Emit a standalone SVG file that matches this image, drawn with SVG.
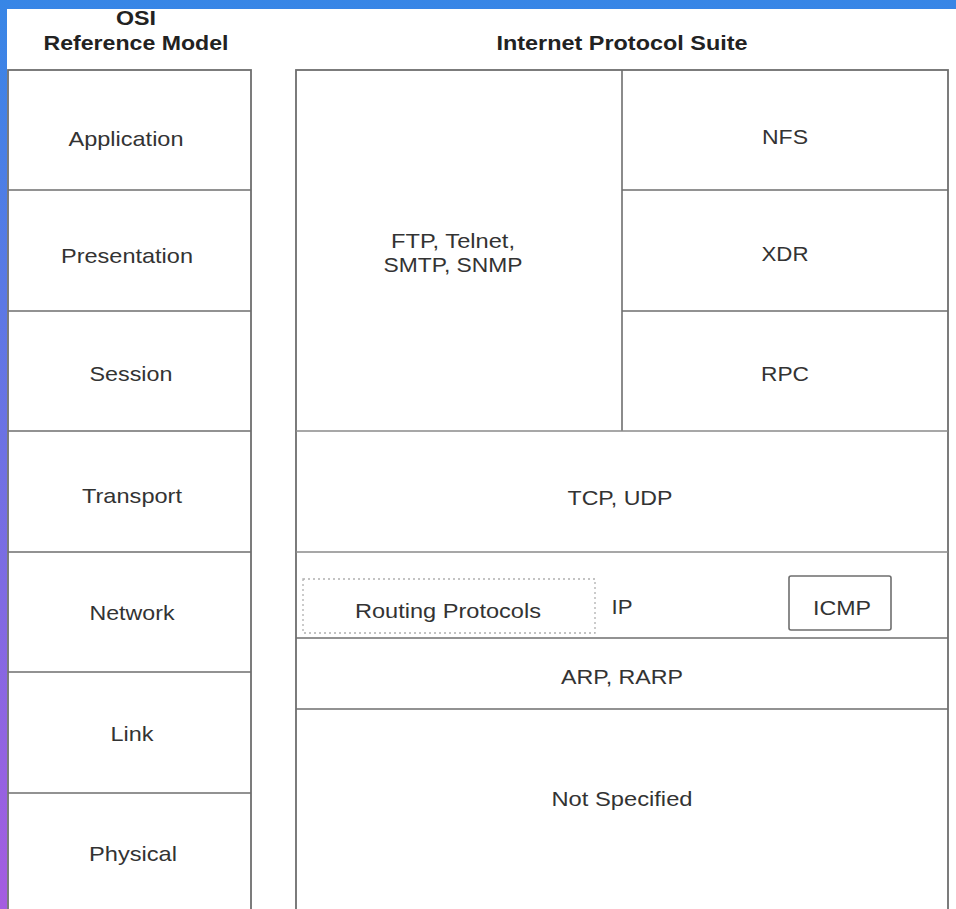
<svg xmlns="http://www.w3.org/2000/svg" width="956" height="909" viewBox="0 0 956 909">
  <defs>
    <linearGradient id="bg" x1="0" y1="0" x2="0" y2="1">
      <stop offset="0" stop-color="#3786e6"/>
      <stop offset="1" stop-color="#a55ce0"/>
    </linearGradient>
    <style>
      .frame{fill:none;stroke:#6e6e6e;stroke-width:1.8}
      .div{stroke:#6e6e6e;stroke-width:1.6}
      .soft{stroke:#8a8a8a;stroke-width:1.6}
      .dot{fill:none;stroke:#b0b0b0;stroke-width:1.3;stroke-dasharray:2 3}
      .lbl{font-family:"Liberation Sans",Arial,sans-serif;font-size:21px;fill:#333;text-anchor:middle}
      .ttl{font-family:"Liberation Sans",Arial,sans-serif;font-size:21px;font-weight:bold;fill:#222;text-anchor:middle}
    </style>
  </defs>
  <rect x="0" y="0" width="956" height="909" fill="url(#bg)"/>
  <rect x="7" y="9" width="949" height="900" fill="#fff"/>

  <g id="titles">
    <text class="ttl" x="136" y="25" textLength="40" lengthAdjust="spacingAndGlyphs">OSI</text>
    <text class="ttl" x="136" y="50" textLength="185" lengthAdjust="spacingAndGlyphs">Reference Model</text>
    <text class="ttl" x="622" y="50" textLength="251" lengthAdjust="spacingAndGlyphs">Internet Protocol Suite</text>
  </g>

  <g id="osi-column">
    <rect class="frame" x="8" y="70" width="243" height="860"/>
  </g>
  <g id="ips-column">
    <rect class="frame" x="296" y="70" width="652" height="860"/>
  </g>

  <g id="connectors">
    <line class="div" x1="8" y1="190" x2="251" y2="190"/>
    <line class="div" x1="8" y1="311" x2="251" y2="311"/>
    <line class="div" x1="8" y1="431" x2="251" y2="431"/>
    <line class="div" x1="8" y1="552" x2="251" y2="552"/>
    <line class="div" x1="8" y1="672" x2="251" y2="672"/>
    <line class="div" x1="8" y1="793" x2="251" y2="793"/>
    <line class="div" x1="622" y1="70" x2="622" y2="431"/>
    <line class="div" x1="622" y1="190" x2="948" y2="190"/>
    <line class="div" x1="622" y1="311" x2="948" y2="311"/>
    <line class="soft" x1="296" y1="431" x2="948" y2="431"/>
    <line class="soft" x1="296" y1="552" x2="948" y2="552"/>
    <line class="div" x1="296" y1="638" x2="948" y2="638"/>
    <line class="div" x1="296" y1="709" x2="948" y2="709"/>
  </g>

  <g id="application"><text class="lbl" x="126" y="146" textLength="115" lengthAdjust="spacingAndGlyphs">Application</text></g>
  <g id="presentation"><text class="lbl" x="127" y="263" textLength="132" lengthAdjust="spacingAndGlyphs">Presentation</text></g>
  <g id="session"><text class="lbl" x="131" y="381" textLength="83" lengthAdjust="spacingAndGlyphs">Session</text></g>
  <g id="transport"><text class="lbl" x="132" y="503" textLength="100" lengthAdjust="spacingAndGlyphs">Transport</text></g>
  <g id="network"><text class="lbl" x="132" y="620" textLength="85" lengthAdjust="spacingAndGlyphs">Network</text></g>
  <g id="link"><text class="lbl" x="132" y="741" textLength="43" lengthAdjust="spacingAndGlyphs">Link</text></g>
  <g id="physical"><text class="lbl" x="133" y="861" textLength="88" lengthAdjust="spacingAndGlyphs">Physical</text></g>

  <g id="ftp">
    <text class="lbl" x="453" y="248" textLength="124" lengthAdjust="spacingAndGlyphs">FTP, Telnet,</text>
    <text class="lbl" x="453" y="272" textLength="139" lengthAdjust="spacingAndGlyphs">SMTP, SNMP</text>
  </g>
  <g id="nfs"><text class="lbl" x="785" y="144" textLength="46" lengthAdjust="spacingAndGlyphs">NFS</text></g>
  <g id="xdr"><text class="lbl" x="785" y="261" textLength="47" lengthAdjust="spacingAndGlyphs">XDR</text></g>
  <g id="rpc"><text class="lbl" x="785" y="381" textLength="48" lengthAdjust="spacingAndGlyphs">RPC</text></g>
  <g id="tcp-udp"><text class="lbl" x="620" y="505" textLength="105" lengthAdjust="spacingAndGlyphs">TCP, UDP</text></g>
  <g id="routing">
    <rect class="dot" x="303" y="579" width="292" height="54"/>
    <text class="lbl" x="448" y="618" textLength="186" lengthAdjust="spacingAndGlyphs">Routing Protocols</text>
  </g>
  <g id="ip"><text class="lbl" x="622" y="614" textLength="21" lengthAdjust="spacingAndGlyphs">IP</text></g>
  <g id="icmp">
    <rect x="789" y="576" width="102" height="54" rx="2" fill="none" stroke="#6e6e6e" stroke-width="1.6"/>
    <text class="lbl" x="842" y="615" textLength="58" lengthAdjust="spacingAndGlyphs">ICMP</text>
  </g>
  <g id="arp"><text class="lbl" x="622" y="684" textLength="122" lengthAdjust="spacingAndGlyphs">ARP, RARP</text></g>
  <g id="not-specified"><text class="lbl" x="622" y="806" textLength="141" lengthAdjust="spacingAndGlyphs">Not Specified</text></g>
</svg>
